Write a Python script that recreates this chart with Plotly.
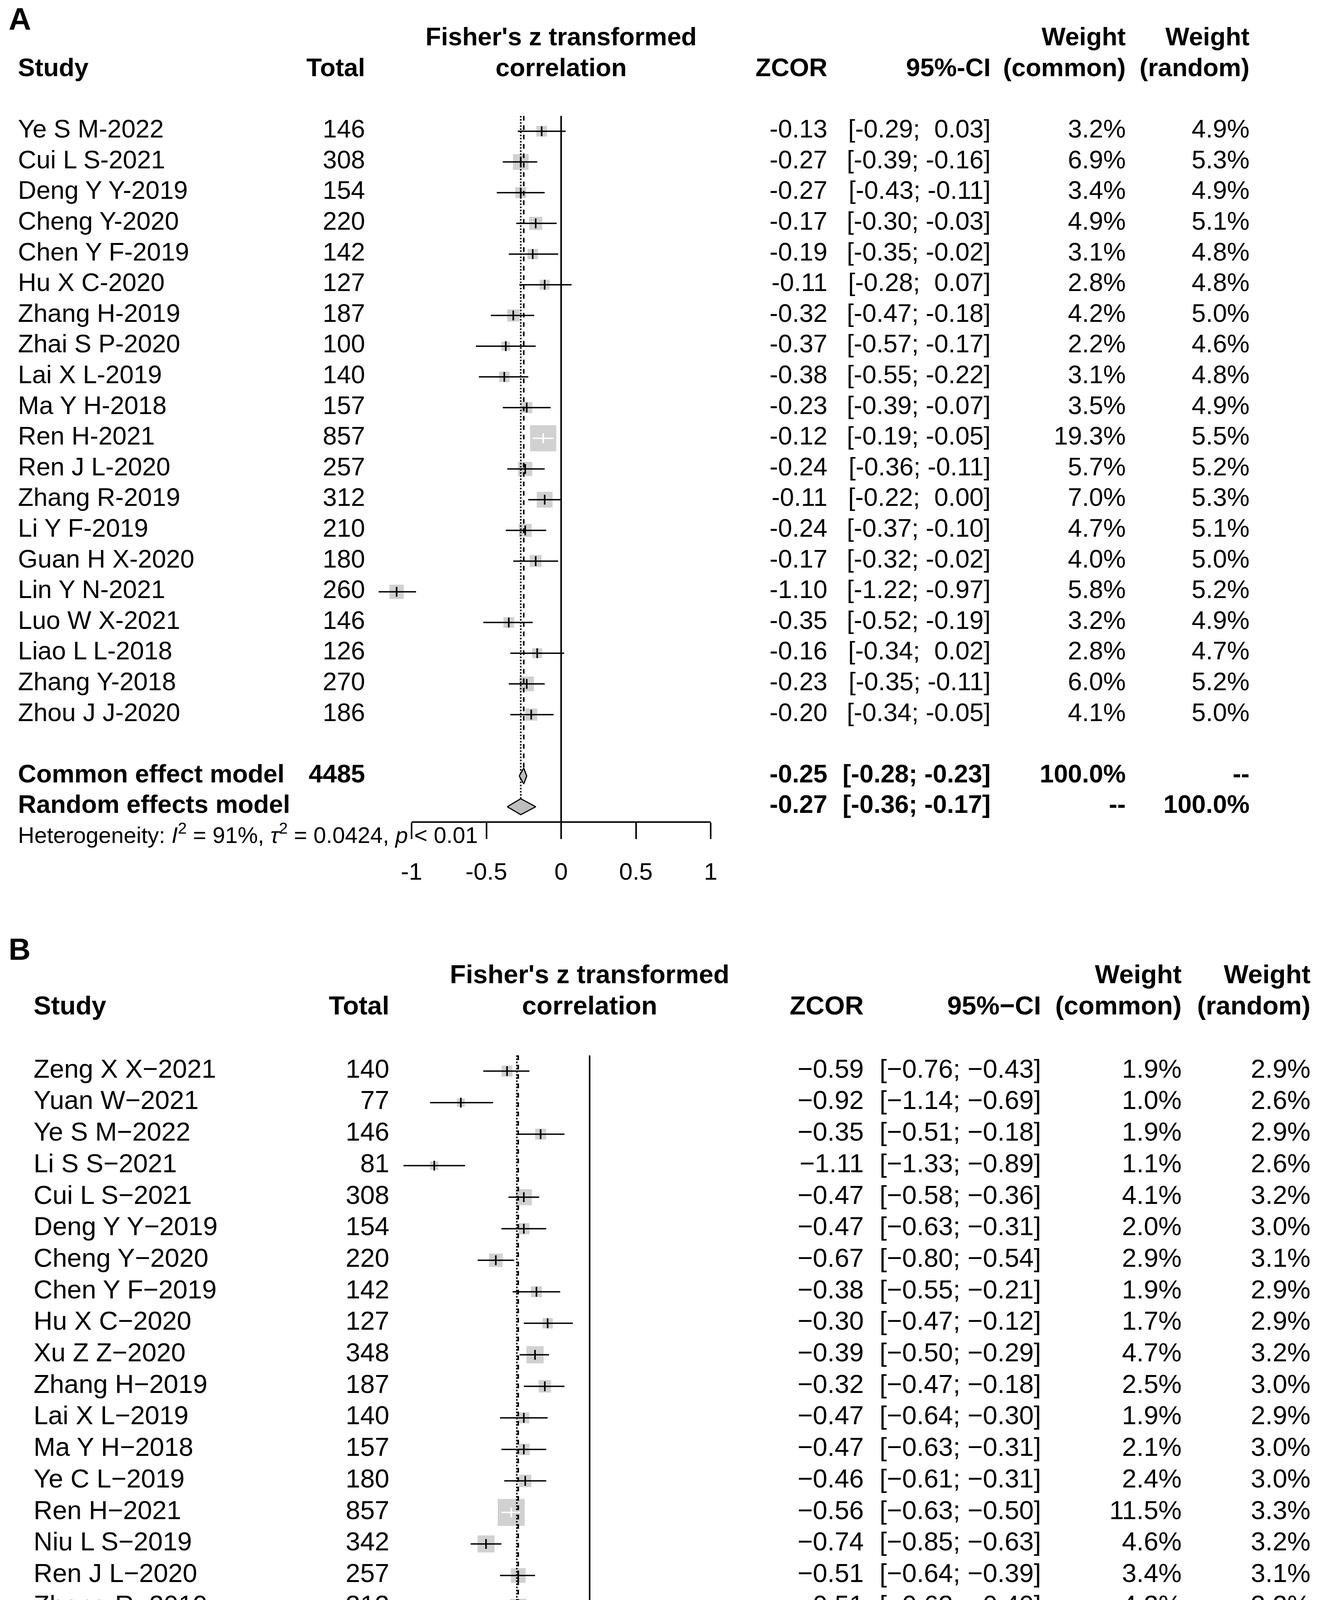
import numpy as np
import plotly.graph_objects as go

W, H = 3383, 5776
FONT = "Liberation Sans, Arial, Helvetica, sans-serif"
BOX_GREY = "#BEBEBE"
NBSP = "\u00a0"

# ---------------- Panel A data ----------------
a_study = ["Ye S M-2022", "Cui L S-2021", "Deng Y Y-2019", "Cheng Y-2020", "Chen Y F-2019",
           "Hu X C-2020", "Zhang H-2019", "Zhai S P-2020", "Lai X L-2019", "Ma Y H-2018",
           "Ren H-2021", "Ren J L-2020", "Zhang R-2019", "Li Y F-2019", "Guan H X-2020",
           "Lin Y N-2021", "Luo W X-2021", "Liao L L-2018", "Zhang Y-2018", "Zhou J J-2020"]
a_total = [146, 308, 154, 220, 142, 127, 187, 100, 140, 157, 857, 257, 312, 210, 180, 260, 146, 126, 270, 186]
a_zcor = [-0.13, -0.27, -0.27, -0.17, -0.19, -0.11, -0.32, -0.37, -0.38, -0.23,
          -0.12, -0.24, -0.11, -0.24, -0.17, -1.10, -0.35, -0.16, -0.23, -0.20]
a_lower = [-0.29, -0.39, -0.43, -0.30, -0.35, -0.28, -0.47, -0.57, -0.55, -0.39,
           -0.19, -0.36, -0.22, -0.37, -0.32, -1.22, -0.52, -0.34, -0.35, -0.34]
a_upper = [0.03, -0.16, -0.11, -0.03, -0.02, 0.07, -0.18, -0.17, -0.22, -0.07,
           -0.05, -0.11, 0.00, -0.10, -0.02, -0.97, -0.19, 0.02, -0.11, -0.05]
a_w_common = [3.2, 6.9, 3.4, 4.9, 3.1, 2.8, 4.2, 2.2, 3.1, 3.5, 19.3, 5.7, 7.0, 4.7, 4.0, 5.8, 3.2, 2.8, 6.0, 4.1]
a_w_random = [4.9, 5.3, 4.9, 5.1, 4.8, 4.8, 5.0, 4.6, 4.8, 4.9, 5.5, 5.2, 5.3, 5.1, 5.0, 5.2, 4.9, 4.7, 5.2, 5.0]
a_sum_total = 4485
a_common = [-0.25, -0.28, -0.23]   # estimate, lower, upper
a_random = [-0.27, -0.36, -0.17]
a_het = ["91%", "0.0424", "< 0.01"]   # I^2, tau^2, p
a_tickvals = [-1, -0.5, 0, 0.5, 1]
a_ticktext = ["-1", "-0.5", "0", "0.5", "1"]

# ---------------- Panel B data ----------------
b_study = ["Zeng X X-2021", "Yuan W-2021", "Ye S M-2022", "Li S S-2021", "Cui L S-2021",
           "Deng Y Y-2019", "Cheng Y-2020", "Chen Y F-2019", "Hu X C-2020", "Xu Z Z-2020",
           "Zhang H-2019", "Lai X L-2019", "Ma Y H-2018", "Ye C L-2019", "Ren H-2021",
           "Niu L S-2019", "Ren J L-2020", "Zhang R-2019", "Xing C-2019", "Zhong M S-2020",
           "Li Y F-2019", "Lin Y N-2021", "Luo W X-2021", "Zhao T Y-2020", "Gao W J-2021",
           "He B X-2020", "Liao L L-2018", "Li Y Y-2019", "Zhang Y-2018", "Guo H T-2020",
           "Zhou J J-2020", "Yue B-2021", "Yu Z C-2022"]
b_total = [140, 77, 146, 81, 308, 154, 220, 142, 127, 348, 187, 140, 157, 180, 857, 342, 257,
           312, 192, 128, 210, 260, 146, 314, 203, 120, 126, 364, 270, 325, 186, 244, 231]
b_zcor = [-0.59, -0.92, -0.35, -1.11, -0.47, -0.47, -0.67, -0.38, -0.30, -0.39, -0.32,
          -0.47, -0.47, -0.46, -0.56, -0.74, -0.51, -0.51, -0.64, -0.56, -0.42, -0.83,
          -0.35, -0.69, -0.96, -0.15, -0.91, -0.15, -0.50, -0.30, -0.33, -0.24, -0.40]
b_lower = [-0.76, -1.14, -0.51, -1.33, -0.58, -0.63, -0.80, -0.55, -0.47, -0.50, -0.47,
           -0.64, -0.63, -0.61, -0.63, -0.85, -0.64, -0.62, -0.78, -0.73, -0.56, -0.96,
           -0.52, -0.80, -1.10, -0.33, -1.09, -0.25, -0.62, -0.41, -0.47, -0.37, -0.53]
b_upper = [-0.43, -0.69, -0.18, -0.89, -0.36, -0.31, -0.54, -0.21, -0.12, -0.29, -0.18,
           -0.30, -0.31, -0.31, -0.50, -0.63, -0.39, -0.40, -0.49, -0.38, -0.28, -0.71,
           -0.19, -0.58, -0.82, 0.04, -0.73, -0.04, -0.38, -0.19, -0.18, -0.12, -0.27]
b_w_common = [1.9, 1.0, 1.9, 1.1, 4.1, 2.0, 2.9, 1.9, 1.7, 4.7, 2.5, 1.9, 2.1, 2.4, 11.5, 4.6, 3.4,
              4.2, 2.6, 1.7, 2.8, 3.5, 1.9, 4.2, 2.7, 1.6, 1.7, 4.9, 3.6, 4.4, 2.5, 3.3, 3.1]
b_w_random = [2.9, 2.6, 2.9, 2.6, 3.2, 3.0, 3.1, 2.9, 2.9, 3.2, 3.0, 2.9, 3.0, 3.0, 3.3, 3.2, 3.1,
              3.2, 3.0, 2.9, 3.1, 3.1, 2.9, 3.2, 3.1, 2.9, 2.9, 3.2, 3.1, 3.2, 3.0, 3.1, 3.1]
b_sum_total = 7494
b_common = [-0.51, -0.53, -0.48]
b_random = [-0.52, -0.59, -0.44]
b_het = ["89%", "0.0452", "< 0.01"]
b_tickvals = [-1, -0.5, 0, 0.5, 1]
b_ticktext = ["\u22121", "\u22120.5", "0", "0.5", "1"]

# ---------------- layout / style constants (pixels) ----------------
PANEL_A = dict(label="A", xf="x", yf="y", xt="x3", top=0, bottom=2300, row1=328.0, rowh=78.6,
               zero_px=1429.0, ppu=383.0, dom_px=(900, 1960),
               font=65, tickfont=62, het_font=58, label_font=80, label_row=-2.56,
               col_study=38, col_total=927, col_zcor=2111, col_ci=2529, col_wc=2875, col_wr=3192,
               col_label=14, box_max=67, minus="-", dash2="--")
PANEL_B = dict(label="B", xf="x2", yf="y2", xt="x4", top=2330, bottom=H, row1=2734.0, rowh=80.7,
               zero_px=1502.0, ppu=358.5, dom_px=(980, 2020),
               font=67, tickfont=66, het_font=61, label_font=78, label_row=-2.77,
               col_study=78, col_total=989, col_zcor=2204, col_ci=2658, col_wc=3018, col_wr=3348,
               col_label=14, box_max=69, minus="\u2212", dash2="\u2212\u2212")


def fnum(v, minus):
    return f"{v:.2f}".replace("-", minus)


def fci(lo, hi, minus):
    def pad(v):
        return f"{v:5.2f}".replace(" ", NBSP).replace("-", minus)
    return "[" + pad(lo) + ";" + NBSP + pad(hi) + "]"


def text_trace(P, x_px, rows, texts, pos, size=None, bold=False):
    return go.Scatter(
        x=[x_px] * len(rows), y=rows, text=texts, mode="text", textposition=pos,
        textfont=dict(family=FONT, size=size or P["font"], color="black",
                      weight="bold" if bold else "normal"),
        xaxis=P["xt"], yaxis=P["yf"], hoverinfo="skip", showlegend=False, cliponaxis=False)


fig = go.Figure()
layout_axes = {}


def add_panel(P, study, total, zcor, lower, upper, wc, wr, sum_total, common, random_, het,
              tickvals, ticktext):
    n = len(study)
    m = P["minus"]
    rows = list(range(1, n + 1))
    r_common, r_random, r_het, r_axis = n + 2, n + 3, n + 4, n + 3.5
    xf, yf = P["xf"], P["yf"]

    # ---------- forest: boxes (area proportional to common-effect weight) ----------
    wmax = max(wc)
    sizes = [P["box_max"] * np.sqrt(w / wmax) for w in wc]
    fig.add_trace(go.Scatter(x=zcor, y=rows, mode="markers",
                             marker=dict(symbol="square", size=sizes, color=BOX_GREY, line=dict(width=0)),
                             xaxis=xf, yaxis=yf, hoverinfo="skip", showlegend=False))

    # ---------- reference lines ----------
    dh = 0.26
    fig.add_trace(go.Scatter(x=[0, 0], y=[0.5, r_axis], mode="lines",
                             line=dict(color="black", width=4), xaxis=xf, yaxis=yf,
                             hoverinfo="skip", showlegend=False))
    fig.add_trace(go.Scatter(x=[common[0], common[0]], y=[0.5, r_common - dh], mode="lines",
                             line=dict(color="black", width=4, dash="dash"), xaxis=xf, yaxis=yf,
                             hoverinfo="skip", showlegend=False))
    fig.add_trace(go.Scatter(x=[random_[0], random_[0]], y=[0.5, r_random - dh], mode="lines",
                             line=dict(color="black", width=4, dash="dot"), xaxis=xf, yaxis=yf,
                             hoverinfo="skip", showlegend=False))

    # ---------- CI lines (white when they fit inside the box) ----------
    bx, by, wx, wy, tick_col = [], [], [], [], []
    for i in range(n):
        half_box = sizes[i] / 2 / P["ppu"]
        inside = (lower[i] >= zcor[i] - half_box) and (upper[i] <= zcor[i] + half_box)
        if inside:
            wx += [lower[i], upper[i], None]
            wy += [rows[i], rows[i], None]
            tick_col.append("white")
        else:
            bx += [lower[i], upper[i], None]
            by += [rows[i], rows[i], None]
            tick_col.append("black")
    fig.add_trace(go.Scatter(x=bx, y=by, mode="lines", line=dict(color="black", width=3.5),
                             xaxis=xf, yaxis=yf, hoverinfo="skip", showlegend=False))
    fig.add_trace(go.Scatter(x=wx, y=wy, mode="lines", line=dict(color="white", width=3.5),
                             xaxis=xf, yaxis=yf, hoverinfo="skip", showlegend=False))
    fig.add_trace(go.Scatter(x=zcor, y=rows, mode="markers",
                             marker=dict(symbol="line-ns", size=18, color=tick_col,
                                         line=dict(color=tick_col, width=4)),
                             xaxis=xf, yaxis=yf, hoverinfo="skip", showlegend=False))

    # ---------- pooled-effect diamonds ----------
    for est, r in ((common, r_common), (random_, r_random)):
        fig.add_trace(go.Scatter(x=[est[1], est[0], est[2], est[0], est[1]],
                                 y=[r, r - dh, r, r + dh, r], mode="lines", fill="toself",
                                 fillcolor=BOX_GREY, line=dict(color="black", width=3),
                                 xaxis=xf, yaxis=yf, hoverinfo="skip", showlegend=False))

    # ---------- axis line (only between the end ticks) ----------
    fig.add_trace(go.Scatter(x=[min(tickvals), max(tickvals)], y=[r_axis, r_axis], mode="lines",
                             line=dict(color="black", width=4), xaxis=xf, yaxis=yf,
                             hoverinfo="skip", showlegend=False))

    # ---------- table text ----------
    study_txt = [s.replace("-", m) for s in study]
    fig.add_trace(text_trace(P, P["col_study"], rows, study_txt, "middle right"))
    fig.add_trace(text_trace(P, P["col_total"], rows, [str(t) for t in total], "middle left"))
    fig.add_trace(text_trace(P, P["col_zcor"], rows, [fnum(v, m) for v in zcor], "middle left"))
    fig.add_trace(text_trace(P, P["col_ci"], rows, [fci(lo, hi, m) for lo, hi in zip(lower, upper)],
                             "middle left"))
    fig.add_trace(text_trace(P, P["col_wc"], rows, [f"{w:.1f}%" for w in wc], "middle left"))
    fig.add_trace(text_trace(P, P["col_wr"], rows, [f"{w:.1f}%" for w in wr], "middle left"))

    srows = [r_common, r_random]
    fig.add_trace(text_trace(P, P["col_study"], srows, ["Common effect model", "Random effects model"],
                             "middle right", bold=True))
    fig.add_trace(text_trace(P, P["col_total"], [r_common], [str(sum_total)], "middle left", bold=True))
    fig.add_trace(text_trace(P, P["col_zcor"], srows, [fnum(common[0], m), fnum(random_[0], m)],
                             "middle left", bold=True))
    fig.add_trace(text_trace(P, P["col_ci"], srows,
                             [fci(common[1], common[2], m), fci(random_[1], random_[2], m)],
                             "middle left", bold=True))
    fig.add_trace(text_trace(P, P["col_wc"], srows, ["100.0%", P["dash2"]], "middle left", bold=True))
    fig.add_trace(text_trace(P, P["col_wr"], srows, [P["dash2"], "100.0%"], "middle left", bold=True))

    het_txt = ("Heterogeneity: <i>I</i><sup>2</sup> = " + het[0] + ", <i>\u03c4</i><sup>2</sup> = "
               + het[1] + ", <i>p</i> " + het[2].replace("<", "&lt;"))
    fig.add_trace(text_trace(P, P["col_study"], [r_het], [het_txt], "middle right", size=P["het_font"]))

    # ---------- headers ----------
    fx_center = P["zero_px"] + (min(tickvals) + max(tickvals)) / 2 * P["ppu"]
    fig.add_trace(text_trace(P, P["col_study"], [-1], ["Study"], "middle right", bold=True))
    fig.add_trace(text_trace(P, P["col_total"], [-1], ["Total"], "middle left", bold=True))
    fig.add_trace(text_trace(P, fx_center, [-2, -1], ["Fisher's z transformed", "correlation"],
                             "middle center", bold=True))
    fig.add_trace(text_trace(P, P["col_zcor"], [-1], ["ZCOR"], "middle left", bold=True))
    fig.add_trace(text_trace(P, P["col_ci"], [-1], ["95%" + m + "CI"], "middle left", bold=True))
    fig.add_trace(text_trace(P, P["col_wc"], [-2, -1], ["Weight", "(common)"], "middle left", bold=True))
    fig.add_trace(text_trace(P, P["col_wr"], [-2, -1], ["Weight", "(random)"], "middle left", bold=True))
    fig.add_trace(text_trace(P, P["col_label"], [P["label_row"]], [P["label"]], "middle right",
                             size=P["label_font"], bold=True))

    # ---------- axes ----------
    rng_y = [1 + (P["bottom"] - P["row1"]) / P["rowh"], 1 + (P["top"] - P["row1"]) / P["rowh"]]
    axis_px = P["row1"] + (r_axis - 1) * P["rowh"]
    d0, d1 = P["dom_px"]
    xkey = "xaxis" + P["xf"][1:]
    ykey = "yaxis" + P["yf"][1:]
    tkey = "xaxis" + P["xt"][1:]
    layout_axes[xkey] = dict(
        domain=[d0 / W, d1 / W], range=[(d0 - P["zero_px"]) / P["ppu"], (d1 - P["zero_px"]) / P["ppu"]],
        anchor="free", position=1 - axis_px / H, tickvals=tickvals, ticktext=ticktext,
        ticks="outside", ticklen=42, tickwidth=4, tickcolor="black", showline=False, showgrid=False,
        zeroline=False, tickfont=dict(family=FONT, size=P["tickfont"], color="black"),
        ticklabelstandoff=30, fixedrange=True)
    layout_axes[ykey] = dict(domain=[1 - P["bottom"] / H, 1 - P["top"] / H], range=rng_y,
                             anchor=P["xf"], visible=False, fixedrange=True)
    layout_axes[tkey] = dict(domain=[0, 1], range=[0, W], anchor=P["yf"], visible=False, fixedrange=True)


add_panel(PANEL_A, a_study, a_total, a_zcor, a_lower, a_upper, a_w_common, a_w_random,
          a_sum_total, a_common, a_random, a_het, a_tickvals, a_ticktext)
add_panel(PANEL_B, b_study, b_total, b_zcor, b_lower, b_upper, b_w_common, b_w_random,
          b_sum_total, b_common, b_random, b_het, b_tickvals, b_ticktext)

fig.update_layout(width=W, height=H, margin=dict(l=0, r=0, t=0, b=0),
                  paper_bgcolor="white", plot_bgcolor="rgba(0,0,0,0)", showlegend=False,
                  font=dict(family=FONT, color="black"), **layout_axes)

fig.write_html("out.html")
